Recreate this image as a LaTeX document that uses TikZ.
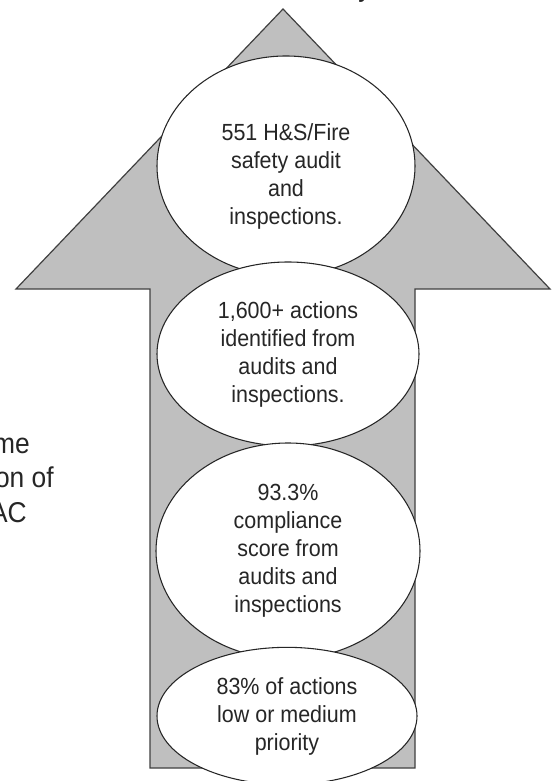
\documentclass[tikz,border=0pt]{standalone}
\usepackage{fontspec}
\setmainfont{Liberation Sans}[FakeStretch=0.92]
\usetikzlibrary{shapes.geometric}

\begin{document}
\begin{tikzpicture}[
  x=0.75pt, y=-0.75pt,
  stage/.style={draw=black!85, fill=white, ellipse, line width=0.8pt, inner sep=0pt, align=center, text=black!85, font=\fontsize{17.5}{21}\selectfont},
  stagetxt/.style={inner sep=0pt, align=center, text=black!85, font=\fontsize{17.5}{21}\selectfont},
  cut/.style={inner sep=0pt, text=black!85, font=\fontsize{21.5}{26}\selectfont},
  shaft/.style={draw=black!75, fill=gray!50, line width=0.9pt, line join=miter}
]
  \useasboundingbox (0,0) rectangle (554,781);

  \draw[shaft] (283,9) -- (550,289) -- (415,289) -- (415,768) -- (150,768) -- (150,289) -- (16,289) -- cycle;

  \node[cut, anchor=base] (topword) at (365,-3) {y};
  \node[cut, anchor=base east] (leftone) at (30,453) {me};
  \node[cut, anchor=base east] (lefttwo) at (54,487) {on of};
  \node[cut, anchor=base east] (leftthree) at (27,522) {AC};

  \node[stage, minimum width=193.5pt, minimum height=165pt] (audit) at (286,166) {};
  \node[stagetxt] (audittxt) at (286,176) {551 H\&S/Fire\\ safety audit\\ and\\ inspections.};
  \node[stage, minimum width=196.5pt, minimum height=138pt] (actions) at (288,354) {1,600+ actions\\ identified from\\ audits and\\ inspections.};
  \node[stage, minimum width=198pt, minimum height=162pt] (score) at (288,551) {93.3\%\\ compliance\\ score from\\ audits and\\ inspections};
  \node[stage, minimum width=195pt, minimum height=103pt] (priority) at (287,716) {83\% of actions\\ low or medium\\ priority};
\end{tikzpicture}
\end{document}
